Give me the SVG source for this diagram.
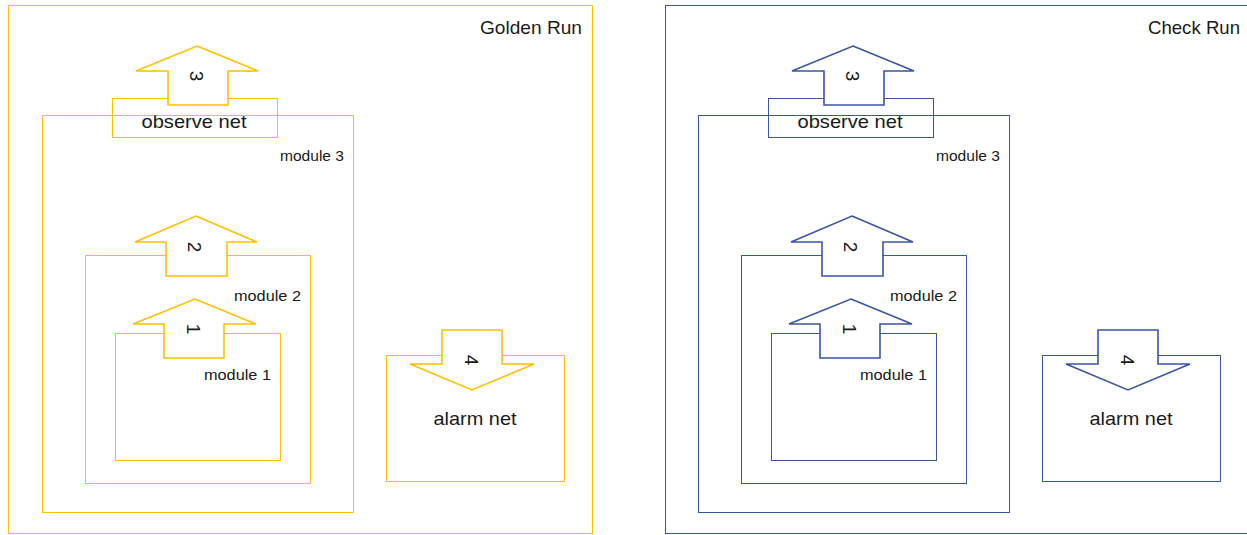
<svg xmlns="http://www.w3.org/2000/svg" width="1247" height="535" viewBox="0 0 1247 535">
<style>
  .box { fill: none; stroke-width: 1; }
  .arrow { fill: #FFFFFF; stroke-width: 1.6; stroke-linejoin: miter; }
  .gold { stroke: #FFC000; }
  .blue { stroke: #3B55A5; }
  text { font-family: "Liberation Sans", Arial, sans-serif; fill: #1A1A1A; }
  .title { font-size: 19px; }
  .net { font-size: 19px; text-anchor: middle; }
  .mod { font-size: 15px; }
  .num { font-size: 19px; text-anchor: middle; }
</style>
<rect width="1247" height="535" fill="#FFFFFF"/>

<!-- Golden Run -->
<g id="golden-run">
  <g id="golden-frame">
    <rect class="box gold" x="8.5" y="5.5" width="584" height="528"/>
    <text class="title" x="480" y="34" textLength="102" lengthAdjust="spacingAndGlyphs">Golden Run</text>
  </g>
  <g id="golden-observe-net">
    <rect class="box gold" x="112.5" y="98.5" width="165" height="39"/>
  </g>
  <g id="golden-module3">
    <rect class="box gold" x="42.5" y="115.5" width="311" height="397"/>
    <text class="mod" x="280" y="161" textLength="64" lengthAdjust="spacingAndGlyphs">module 3</text>
  </g>
  <g id="golden-module2">
    <rect class="box gold" x="85.5" y="255.5" width="225" height="228"/>
    <text class="mod" x="234" y="301" textLength="67" lengthAdjust="spacingAndGlyphs">module 2</text>
  </g>
  <g id="golden-module1">
    <rect class="box gold" x="115.5" y="333.5" width="165" height="127"/>
    <text class="mod" x="204" y="380" textLength="67" lengthAdjust="spacingAndGlyphs">module 1</text>
  </g>
  <g id="golden-alarm-net">
    <rect class="box gold" x="386.5" y="355.5" width="178" height="126"/>
  </g>
  <g id="golden-connectors">
    <g id="golden-arrow3">
      <polygon class="arrow gold" points="197,46 258,71 228,71 228,105 168,105 168,71 136,71"/>
      <text class="num" x="197" y="82.8" transform="rotate(90 197 76)">3</text>
    </g>
    <g id="golden-arrow2">
      <polygon class="arrow gold" points="196,216 257,242 227,242 227,276 166,276 166,242 135,242"/>
      <text class="num" x="195" y="253.8" transform="rotate(90 195 247)">2</text>
    </g>
    <g id="golden-arrow1">
      <polygon class="arrow gold" points="195,299 256,324 224,324 224,358 164,358 164,324 133,324"/>
      <text class="num" x="194" y="335.8" transform="rotate(90 194 329)">1</text>
    </g>
    <g id="golden-arrow4">
      <polygon class="arrow gold" points="442,330 502,330 502,364 534,364 472,390 410,364 442,364"/>
      <text class="num" x="472" y="366.8" transform="rotate(90 472 360)">4</text>
    </g>
  </g>
  <text class="net" x="194" y="127.5" textLength="105" lengthAdjust="spacingAndGlyphs">observe net</text>
  <text class="net" x="475" y="425" textLength="83" lengthAdjust="spacingAndGlyphs">alarm net</text>
</g>

<!-- Check Run -->
<g id="check-run">
  <g id="check-frame">
    <rect class="box blue" x="665.5" y="5.5" width="600" height="528"/>
    <text class="title" x="1148" y="34" textLength="92" lengthAdjust="spacingAndGlyphs">Check Run</text>
  </g>
  <g id="check-observe-net">
    <rect class="box blue" x="768.5" y="98.5" width="165" height="39"/>
  </g>
  <g id="check-module3">
    <rect class="box blue" x="698.5" y="115.5" width="311" height="397"/>
    <text class="mod" x="936" y="161" textLength="64" lengthAdjust="spacingAndGlyphs">module 3</text>
  </g>
  <g id="check-module2">
    <rect class="box blue" x="741.5" y="255.5" width="225" height="228"/>
    <text class="mod" x="890" y="301" textLength="67" lengthAdjust="spacingAndGlyphs">module 2</text>
  </g>
  <g id="check-module1">
    <rect class="box blue" x="771.5" y="333.5" width="165" height="127"/>
    <text class="mod" x="860" y="380" textLength="67" lengthAdjust="spacingAndGlyphs">module 1</text>
  </g>
  <g id="check-alarm-net">
    <rect class="box blue" x="1042.5" y="355.5" width="178" height="126"/>
  </g>
  <g id="check-connectors">
    <g id="check-arrow3">
      <polygon class="arrow blue" points="853,46 914,71 884,71 884,105 824,105 824,71 792,71"/>
      <text class="num" x="853" y="82.8" transform="rotate(90 853 76)">3</text>
    </g>
    <g id="check-arrow2">
      <polygon class="arrow blue" points="852,216 913,242 883,242 883,276 822,276 822,242 791,242"/>
      <text class="num" x="851" y="253.8" transform="rotate(90 851 247)">2</text>
    </g>
    <g id="check-arrow1">
      <polygon class="arrow blue" points="851,299 912,324 880,324 880,358 820,358 820,324 789,324"/>
      <text class="num" x="850" y="335.8" transform="rotate(90 850 329)">1</text>
    </g>
    <g id="check-arrow4">
      <polygon class="arrow blue" points="1098,330 1158,330 1158,364 1190,364 1128,390 1066,364 1098,364"/>
      <text class="num" x="1128" y="366.8" transform="rotate(90 1128 360)">4</text>
    </g>
  </g>
  <text class="net" x="850" y="127.5" textLength="105" lengthAdjust="spacingAndGlyphs">observe net</text>
  <text class="net" x="1131" y="425" textLength="83" lengthAdjust="spacingAndGlyphs">alarm net</text>
</g>
</svg>
